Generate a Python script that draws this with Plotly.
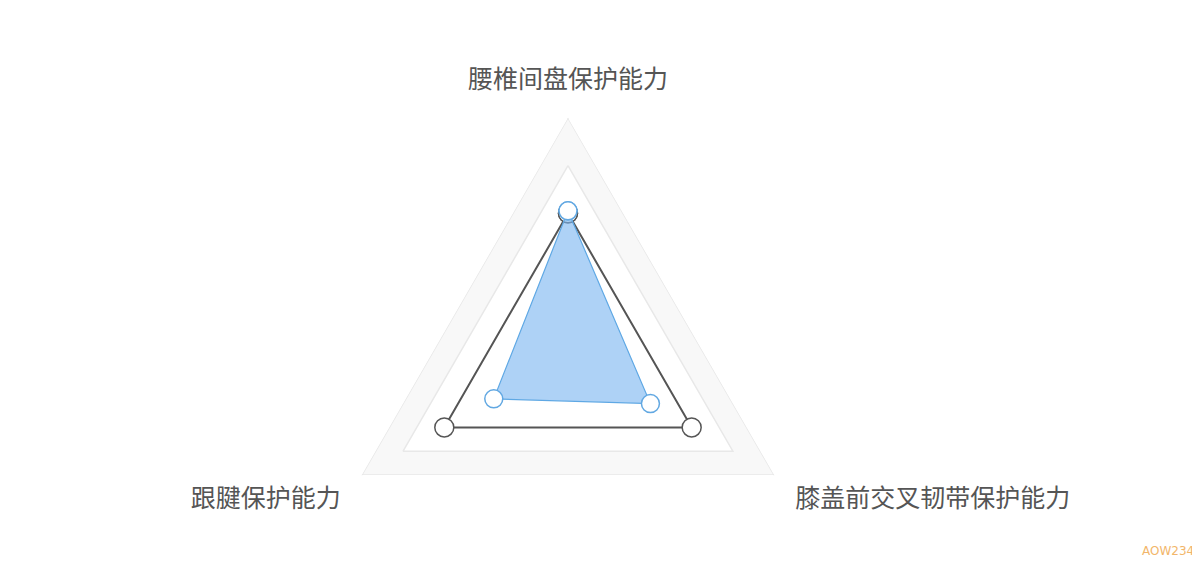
import plotly.graph_objects as go

# axes of the radar, clockwise from the top
categories = ["腰椎间盘保护能力", "膝盖前交叉韧带保护能力", "跟腱保护能力"]

# values on a 0..1 scale
reference_values = [0.60, 0.60, 0.60]
product_values = [0.61, 0.40, 0.36]

# grid band levels
band_outer = [1.0, 1.0, 1.0]
band_inner = [0.8, 0.8, 0.8]


def closed(values):
    return list(values) + [values[0]]


theta = closed(categories)

fig = go.Figure()

# light grey outer band, white inside it
fig.add_trace(go.Scatterpolar(
    r=closed(band_outer), theta=theta, mode="lines", fill="toself",
    fillcolor="#f8f8f8", line=dict(color="#e8e8e8", width=1.5),
    hoverinfo="skip", showlegend=False
))
fig.add_trace(go.Scatterpolar(
    r=closed(band_inner), theta=theta, mode="lines", fill="toself",
    fillcolor="#ffffff", line=dict(color="#e8e8e8", width=1.5),
    hoverinfo="skip", showlegend=False
))

fig.add_trace(go.Scatterpolar(
    r=closed(reference_values), theta=theta, mode="lines+markers",
    line=dict(color="#555555", width=2),
    marker=dict(size=19, color="white", line=dict(color="#555555", width=1.5)),
    showlegend=False
))

fig.add_trace(go.Scatterpolar(
    r=closed(product_values), theta=theta, mode="lines+markers", fill="toself",
    fillcolor="rgba(120,180,240,0.6)",
    line=dict(color="#5fa8e4", width=1.2),
    marker=dict(size=18, color="white", line=dict(color="#62a8e2", width=1.5)),
    showlegend=False
))

fig.update_layout(
    width=1200, height=620,
    margin=dict(l=0, r=0, t=0, b=0),
    paper_bgcolor="white",
    font=dict(family="Noto Sans CJK SC", color="#555555"),
    polar=dict(
        domain=dict(x=[0.2683, 0.665], y=[0.0548, 0.8226]),
        gridshape="linear",
        bgcolor="rgba(0,0,0,0)",
        radialaxis=dict(range=[0, 1], visible=True, showticklabels=False,
                        ticks="", showgrid=False, showline=False),
        angularaxis=dict(rotation=90, direction="clockwise", layer="above traces",
                         showline=False, showgrid=True, gridcolor="rgba(205,205,205,0.55)",
                         ticks="outside", ticklen=19, tickcolor="rgba(0,0,0,0)",
                         tickfont=dict(size=25, color="#555555")),
    ),
    annotations=[dict(
        text="AOW234", xref="paper", yref="paper", x=0.99, y=0.125,
        xanchor="right", yanchor="middle", showarrow=False,
        font=dict(size=12, color="#f2b66a", family="DejaVu Sans")
    )],
)

fig.write_html("out.html")
